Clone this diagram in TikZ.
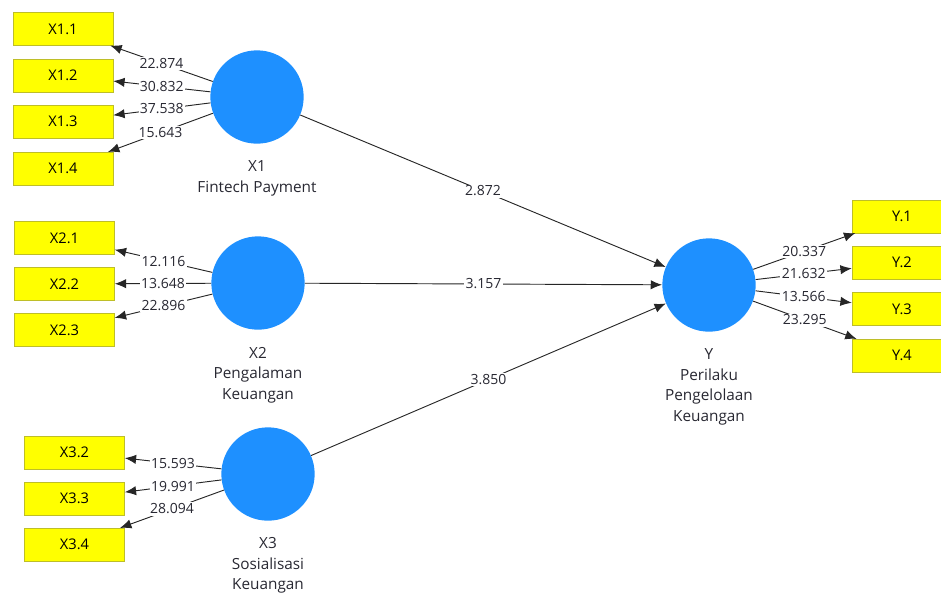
\documentclass[tikz,border=0pt]{standalone}
\usepackage{fontspec}
\setmainfont{Open Sans}
\usetikzlibrary{positioning,shapes,arrows.meta}

\definecolor{latentblue}{RGB}{30,144,255}
\definecolor{boxyellow}{RGB}{255,255,0}
\definecolor{boxedge}{RGB}{190,190,40}
\definecolor{labelgray}{RGB}{40,40,50}

\tikzset{
    latent/.style={circle,fill=latentblue,minimum size=70pt,inner sep=0pt},
    indicator/.style={rectangle,draw=boxedge,fill=boxyellow,minimum width=75pt,minimum height=24.5pt,inner sep=0pt,font=\fontsize{11}{13}\selectfont},
    caption/.style={align=center,font=\fontsize{11.5}{15.5}\selectfont,text=labelgray},
    weight/.style={fill=white,inner sep=1pt,font=\fontsize{10.5}{12}\selectfont,text=labelgray},
    link/.style={draw=black!85,line width=0.7pt,-{Latex[length=8.5pt,width=7pt]}}
}

\begin{document}
\begin{tikzpicture}[x=0.75pt,y=-0.75pt]
    \useasboundingbox (0,0) rectangle (941,594);

    % Latent variables
    \node[latent] (X1) at (257,97) {};
    \node[latent] (X2) at (258,283) {};
    \node[latent] (X3) at (268,474) {};
    \node[latent] (Y) at (709,285) {};

    % Captions
    \node[caption] (capX1) at (257,178.5) {X1\\Fintech Payment};
    \node[caption] (capX2) at (258,375) {X2\\Pengalaman\\Keuangan};
    \node[caption] (capX3) at (268,565.5) {X3\\Sosialisasi\\Keuangan};
    \node[caption] (capY) at (709,387) {Y\\Perilaku\\Pengelolaan\\Keuangan};

    % Indicators of X1
    \node[indicator] (X11) at (63,29) {X1.1};
    \node[indicator] (X12) at (63,75.5) {X1.2};
    \node[indicator] (X13) at (63,121.5) {X1.3};
    \node[indicator] (X14) at (63,168.5) {X1.4};

    % Indicators of X2
    \node[indicator] (X21) at (64.5,238) {X2.1};
    \node[indicator] (X22) at (64.5,284) {X2.2};
    \node[indicator] (X23) at (64.5,330) {X2.3};

    % Indicators of X3
    \node[indicator] (X32) at (74.5,452.5) {X3.2};
    \node[indicator] (X33) at (74.5,498.5) {X3.3};
    \node[indicator] (X34) at (74.5,544.5) {X3.4};

    % Indicators of Y
    \node[indicator] (Y1) at (902,216.5) {Y.1};
    \node[indicator] (Y2) at (902,262.5) {Y.2};
    \node[indicator] (Y3) at (902,309) {Y.3};
    \node[indicator] (Y4) at (902,355.5) {Y.4};

    % Outer loadings
    \draw[link] (X1) -- (X11) node[midway,weight] {22.874};
    \draw[link] (X1) -- (X12) node[midway,weight] {30.832};
    \draw[link] (X1) -- (X13) node[midway,weight] {37.538};
    \draw[link] (X1) -- (X14) node[midway,weight] {15.643};

    \draw[link] (X2) -- (X21) node[midway,weight] {12.116};
    \draw[link] (X2) -- (X22) node[midway,weight] {13.648};
    \draw[link] (X2) -- (X23) node[midway,weight] {22.896};

    \draw[link] (X3) -- (X32) node[midway,weight] {15.593};
    \draw[link] (X3) -- (X33) node[midway,weight] {19.991};
    \draw[link] (X3) -- (X34) node[midway,weight] {28.094};

    \draw[link] (Y) -- (Y1) node[midway,weight] {20.337};
    \draw[link] (Y) -- (Y2) node[midway,weight] {21.632};
    \draw[link] (Y) -- (Y3) node[midway,weight] {13.566};
    \draw[link] (Y) -- (Y4) node[midway,weight] {23.295};

    % Path coefficients
    \draw[link] (X1) -- (Y) node[midway,weight] {2.872};
    \draw[link] (X2) -- (Y) node[midway,weight] {3.157};
    \draw[link] (X3) -- (Y) node[midway,weight] {3.850};
\end{tikzpicture}
\end{document}
